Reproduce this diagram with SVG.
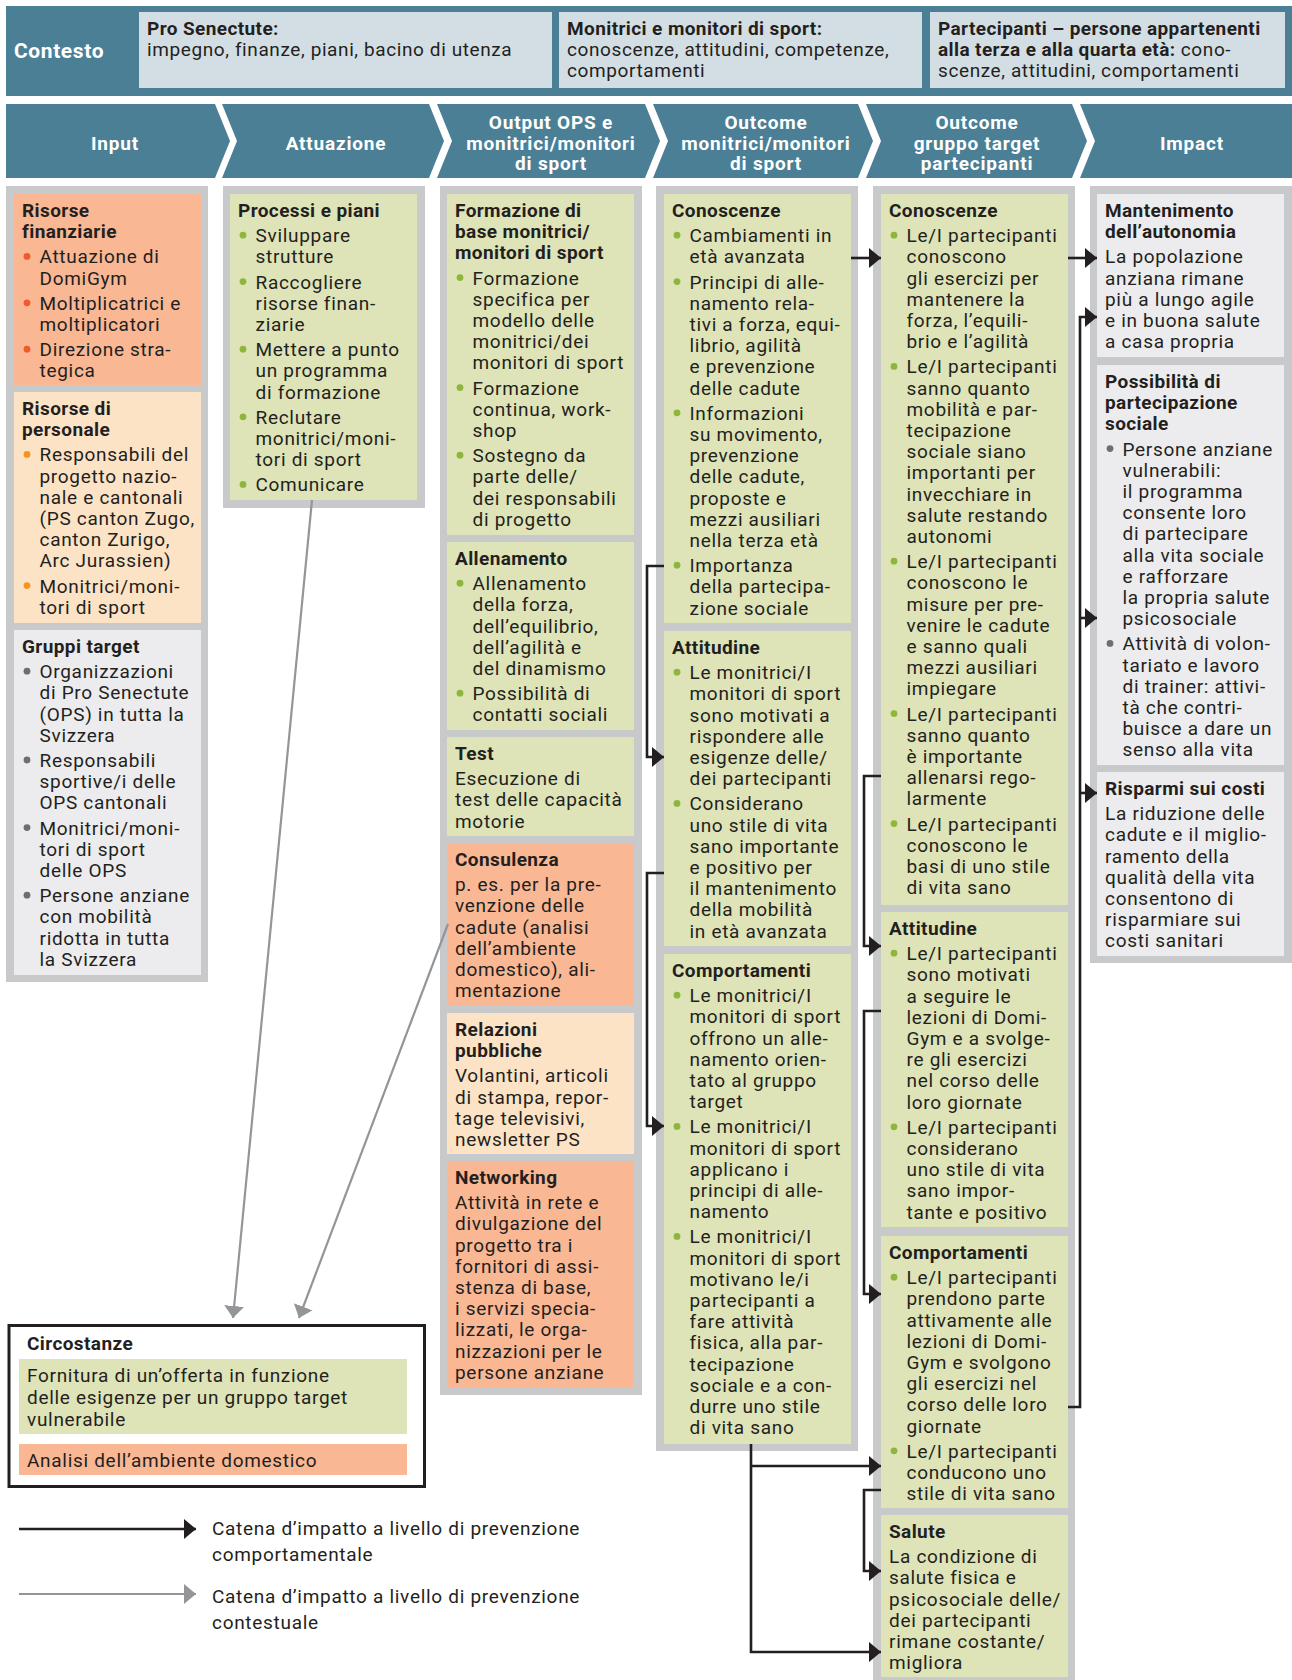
<svg xmlns="http://www.w3.org/2000/svg" width="1292" height="1680" viewBox="0 0 1292 1680">
<style>
.t{font-family:Roboto,"Liberation Sans",sans-serif;font-size:19px;letter-spacing:0.7px;fill:#231f20}
.h{font-weight:700;letter-spacing:0.4px}
.dr{fill:#f15a2b}.do{fill:#f7941e}.dg{fill:#6d6e71}.dl{fill:#8fb63c}
.fr{fill:#c8c9cb}.gr{fill:#dee4b7}.sa{fill:#f9b794}.pe{fill:#fde3c6}.lg{fill:#ececee}
.hd{fill:#4b7f96}.hb{fill:#d3dee4}
.ch{font-family:Roboto,"Liberation Sans",sans-serif;font-size:19px;font-weight:700;letter-spacing:0.8px;fill:#fff;text-anchor:middle}
.hx{font-family:Roboto,"Liberation Sans",sans-serif;font-size:19px;letter-spacing:0.6px;fill:#231f20}
.cn{fill:none;stroke:#231f20;stroke-width:2.6}
.cg{fill:none;stroke:#939598;stroke-width:2.2}
</style>
<defs>
<marker id="ab" viewBox="0 0 12 20" refX="12" refY="10" markerWidth="12" markerHeight="20" markerUnits="userSpaceOnUse" orient="auto"><path d="M0,0L12,10L0,20z" fill="#231f20"/></marker>
<marker id="ag" viewBox="0 0 12 20" refX="12" refY="10" markerWidth="12" markerHeight="20" markerUnits="userSpaceOnUse" orient="auto"><path d="M0,0L12,10L0,20z" fill="#939598"/></marker>
</defs>

<g id="contesto">
<rect class="hd" x="6" y="6" width="1286" height="90"/>
<text x="14" y="58" style="font-family:Roboto,'Liberation Sans',sans-serif;font-size:21px;font-weight:700;letter-spacing:0.6px;fill:#fff">Contesto</text>
<rect class="hb" x="139" y="12" width="413" height="76"/>
<text class="hx" x="147" y="35"><tspan style="font-weight:700;letter-spacing:0.4px">Pro Senectute:</tspan><tspan x="147" dy="21">impegno, finanze, piani, bacino di utenza</tspan></text>
<rect class="hb" x="559" y="12" width="363" height="76"/>
<text class="hx" x="567" y="35"><tspan style="font-weight:700;letter-spacing:0.4px">Monitrici e monitori di sport:</tspan><tspan x="567" dy="21">conoscenze, attitudini, competenze,</tspan><tspan x="567" dy="21">comportamenti</tspan></text>
<rect class="hb" x="930" y="12" width="355" height="76"/>
<text class="hx" x="938" y="35"><tspan style="font-weight:700;letter-spacing:0.4px">Partecipanti – persone appartenenti</tspan><tspan x="938" dy="21" style="font-weight:700;letter-spacing:0.4px">alla terza e alla quarta età:</tspan><tspan> cono-</tspan><tspan x="938" dy="21">scenze, attitudini, comportamenti</tspan></text>
</g>

<g id="fasi">
<polygon class="hd" points="6,104 215,104 230,141 215,178 6,178"/>
<polygon class="hd" points="222,104 429,104 444,141 429,178 222,178 237,141"/>
<polygon class="hd" points="437,104 645,104 660,141 645,178 437,178 452,141"/>
<polygon class="hd" points="653,104 858,104 873,141 858,178 653,178 668,141"/>
<polygon class="hd" points="866,104 1072,104 1087,141 1072,178 866,178 881,141"/>
<polygon class="hd" points="1080,104 1292,104 1292,178 1080,178 1095,141"/>
<text class="ch" x="115" y="150">Input</text>
<text class="ch" x="336" y="150">Attuazione</text>
<text class="ch" x="551" y="129">Output OPS e<tspan x="551" dy="20.5">monitrici/monitori</tspan><tspan x="551" dy="20.5">di sport</tspan></text>
<text class="ch" x="766" y="129">Outcome<tspan x="766" dy="20.5">monitrici/monitori</tspan><tspan x="766" dy="20.5">di sport</tspan></text>
<text class="ch" x="977" y="129">Outcome<tspan x="977" dy="20.5">gruppo target</tspan><tspan x="977" dy="20.5">partecipanti</tspan></text>
<text class="ch" x="1192" y="150">Impact</text>
</g>

<g id="frames">
<rect class="fr" x="6" y="186" width="202" height="796"/>
<rect class="fr" x="223" y="186" width="202" height="322"/>
<rect class="fr" x="440" y="186" width="202" height="1209"/>
<rect class="fr" x="656" y="186" width="202" height="1265"/>
<rect class="fr" x="873" y="186" width="202" height="1494"/>
<rect class="fr" x="1090" y="186" width="202" height="777"/>
</g>

<g id="risorse-finanziarie">
<rect class="sa" x="14" y="194" width="187" height="191"/>
<g class="dr"><circle cx="27" cy="256.4" r="3.4"/><circle cx="27" cy="302.8" r="3.4"/><circle cx="27" cy="349.2" r="3.4"/></g>
<text class="t" x="22" y="217"><tspan class="h">Risorse</tspan><tspan class="h" x="22" dy="21.2">finanziarie</tspan><tspan x="39.5" dy="25.2">Attuazione di</tspan><tspan x="39.5" dy="21.2">DomiGym</tspan><tspan x="39.5" dy="25.2">Moltiplicatrici e</tspan><tspan x="39.5" dy="21.2">moltiplicatori</tspan><tspan x="39.5" dy="25.2">Direzione stra-</tspan><tspan x="39.5" dy="21.2">tegica</tspan></text>
</g>
<g id="risorse-personale">
<rect class="pe" x="14" y="392" width="187" height="231"/>
<g class="do"><circle cx="27" cy="454.4" r="3.4"/><circle cx="27" cy="585.6" r="3.4"/></g>
<text class="t" x="22" y="415"><tspan class="h">Risorse di</tspan><tspan class="h" x="22" dy="21.2">personale</tspan><tspan x="39.5" dy="25.2">Responsabili del</tspan><tspan x="39.5" dy="21.2">progetto nazio-</tspan><tspan x="39.5" dy="21.2">nale e cantonali</tspan><tspan x="39.5" dy="21.2">(PS canton Zugo,</tspan><tspan x="39.5" dy="21.2">canton Zurigo,</tspan><tspan x="39.5" dy="21.2">Arc Jurassien)</tspan><tspan x="39.5" dy="25.2">Monitrici/moni-</tspan><tspan x="39.5" dy="21.2">tori di sport</tspan></text>
</g>
<g id="gruppi-target">
<rect class="lg" x="14" y="630" width="187" height="345"/>
<g class="dg"><circle cx="27" cy="671.2" r="3.4"/><circle cx="27" cy="760" r="3.4"/><circle cx="27" cy="827.6" r="3.4"/><circle cx="27" cy="895.2" r="3.4"/></g>
<text class="t" x="22" y="653"><tspan class="h">Gruppi target</tspan><tspan x="39.5" dy="25.2">Organizzazioni</tspan><tspan x="39.5" dy="21.2">di Pro Senectute</tspan><tspan x="39.5" dy="21.2">(OPS) in tutta la</tspan><tspan x="39.5" dy="21.2">Svizzera</tspan><tspan x="39.5" dy="25.2">Responsabili</tspan><tspan x="39.5" dy="21.2">sportive/i delle</tspan><tspan x="39.5" dy="21.2">OPS cantonali</tspan><tspan x="39.5" dy="25.2">Monitrici/moni-</tspan><tspan x="39.5" dy="21.2">tori di sport</tspan><tspan x="39.5" dy="21.2">delle OPS</tspan><tspan x="39.5" dy="25.2">Persone anziane</tspan><tspan x="39.5" dy="21.2">con mobilità</tspan><tspan x="39.5" dy="21.2">ridotta in tutta</tspan><tspan x="39.5" dy="21.2">la Svizzera</tspan></text>
</g>

<g id="processi-piani">
<rect class="gr" x="230" y="194" width="187" height="306"/>
<g class="dl"><circle cx="243" cy="235.2" r="3.4"/><circle cx="243" cy="281.6" r="3.4"/><circle cx="243" cy="349.2" r="3.4"/><circle cx="243" cy="416.8" r="3.4"/><circle cx="243" cy="484.4" r="3.4"/></g>
<text class="t" x="238" y="217"><tspan class="h">Processi e piani</tspan><tspan x="255.5" dy="25.2">Sviluppare</tspan><tspan x="255.5" dy="21.2">strutture</tspan><tspan x="255.5" dy="25.2">Raccogliere</tspan><tspan x="255.5" dy="21.2">risorse finan-</tspan><tspan x="255.5" dy="21.2">ziarie</tspan><tspan x="255.5" dy="25.2">Mettere a punto</tspan><tspan x="255.5" dy="21.2">un programma</tspan><tspan x="255.5" dy="21.2">di formazione</tspan><tspan x="255.5" dy="25.2">Reclutare</tspan><tspan x="255.5" dy="21.2">monitrici/moni-</tspan><tspan x="255.5" dy="21.2">tori di sport</tspan><tspan x="255.5" dy="25.2">Comunicare</tspan></text>
</g>

<g id="formazione">
<rect class="gr" x="447" y="194" width="187" height="341"/>
<g class="dl"><circle cx="460" cy="277.6" r="3.4"/><circle cx="460" cy="387.6" r="3.4"/><circle cx="460" cy="455.2" r="3.4"/></g>
<text class="t" x="455" y="217"><tspan class="h">Formazione di</tspan><tspan class="h" x="455" dy="21.2">base monitrici/</tspan><tspan class="h" x="455" dy="21.2">monitori di sport</tspan><tspan x="472.5" dy="25.2">Formazione</tspan><tspan x="472.5" dy="21.2">specifica per</tspan><tspan x="472.5" dy="21.2">modello delle</tspan><tspan x="472.5" dy="21.2">monitrici/dei</tspan><tspan x="472.5" dy="21.2">monitori di sport</tspan><tspan x="472.5" dy="25.2">Formazione</tspan><tspan x="472.5" dy="21.2">continua, work-</tspan><tspan x="472.5" dy="21.2">shop</tspan><tspan x="472.5" dy="25.2">Sostegno da</tspan><tspan x="472.5" dy="21.2">parte delle/</tspan><tspan x="472.5" dy="21.2">dei responsabili</tspan><tspan x="472.5" dy="21.2">di progetto</tspan></text>
</g>
<g id="allenamento">
<rect class="gr" x="447" y="542" width="187" height="188"/>
<g class="dl"><circle cx="460" cy="583.2" r="3.4"/><circle cx="460" cy="693.2" r="3.4"/></g>
<text class="t" x="455" y="565"><tspan class="h">Allenamento</tspan><tspan x="472.5" dy="25.2">Allenamento</tspan><tspan x="472.5" dy="21.2">della forza,</tspan><tspan x="472.5" dy="21.2">dell’equilibrio,</tspan><tspan x="472.5" dy="21.2">dell’agilità e</tspan><tspan x="472.5" dy="21.2">del dinamismo</tspan><tspan x="472.5" dy="25.2">Possibilità di</tspan><tspan x="472.5" dy="21.2">contatti sociali</tspan></text>
</g>
<g id="test">
<rect class="gr" x="447" y="737" width="187" height="99"/>
<text class="t" x="455" y="760"><tspan class="h">Test</tspan><tspan x="455" dy="25.2">Esecuzione di</tspan><tspan x="455" dy="21.2">test delle capacità</tspan><tspan x="455" dy="21.2">motorie</tspan></text>
</g>
<g id="consulenza">
<rect class="sa" x="447" y="843" width="187" height="163"/>
<text class="t" x="455" y="866"><tspan class="h">Consulenza</tspan><tspan x="455" dy="25.2">p. es. per la pre-</tspan><tspan x="455" dy="21.2">venzione delle</tspan><tspan x="455" dy="21.2">cadute (analisi</tspan><tspan x="455" dy="21.2">dell’ambiente</tspan><tspan x="455" dy="21.2">domestico), ali-</tspan><tspan x="455" dy="21.2">mentazione</tspan></text>
</g>
<g id="relazioni-pubbliche">
<rect class="pe" x="447" y="1013" width="187" height="141"/>
<text class="t" x="455" y="1036"><tspan class="h">Relazioni</tspan><tspan class="h" x="455" dy="21.2">pubbliche</tspan><tspan x="455" dy="25.2">Volantini, articoli</tspan><tspan x="455" dy="21.2">di stampa, repor-</tspan><tspan x="455" dy="21.2">tage televisivi,</tspan><tspan x="455" dy="21.2">newsletter PS</tspan></text>
</g>
<g id="networking">
<rect class="sa" x="447" y="1161" width="187" height="227"/>
<text class="t" x="455" y="1184"><tspan class="h">Networking</tspan><tspan x="455" dy="25.2">Attività in rete e</tspan><tspan x="455" dy="21.2">divulgazione del</tspan><tspan x="455" dy="21.2">progetto tra i</tspan><tspan x="455" dy="21.2">fornitori di assi-</tspan><tspan x="455" dy="21.2">stenza di base,</tspan><tspan x="455" dy="21.2">i servizi specia-</tspan><tspan x="455" dy="21.2">lizzati, le orga-</tspan><tspan x="455" dy="21.2">nizzazioni per le</tspan><tspan x="455" dy="21.2">persone anziane</tspan></text>
</g>

<g id="mon-conoscenze">
<rect class="gr" x="664" y="194" width="187" height="429"/>
<g class="dl"><circle cx="677" cy="235.2" r="3.4"/><circle cx="677" cy="281.6" r="3.4"/><circle cx="677" cy="412.8" r="3.4"/><circle cx="677" cy="565.2" r="3.4"/></g>
<text class="t" x="672" y="217"><tspan class="h">Conoscenze</tspan><tspan x="689.5" dy="25.2">Cambiamenti in</tspan><tspan x="689.5" dy="21.2">età avanzata</tspan><tspan x="689.5" dy="25.2">Principi di alle-</tspan><tspan x="689.5" dy="21.2">namento rela-</tspan><tspan x="689.5" dy="21.2">tivi a forza, equi-</tspan><tspan x="689.5" dy="21.2">librio, agilità</tspan><tspan x="689.5" dy="21.2">e prevenzione</tspan><tspan x="689.5" dy="21.2">delle cadute</tspan><tspan x="689.5" dy="25.2">Informazioni</tspan><tspan x="689.5" dy="21.2">su movimento,</tspan><tspan x="689.5" dy="21.2">prevenzione</tspan><tspan x="689.5" dy="21.2">delle cadute,</tspan><tspan x="689.5" dy="21.2">proposte e</tspan><tspan x="689.5" dy="21.2">mezzi ausiliari</tspan><tspan x="689.5" dy="21.2">nella terza età</tspan><tspan x="689.5" dy="25.2">Importanza</tspan><tspan x="689.5" dy="21.2">della partecipa-</tspan><tspan x="689.5" dy="21.2">zione sociale</tspan></text>
</g>
<g id="mon-attitudine">
<rect class="gr" x="664" y="631" width="187" height="315"/>
<g class="dl"><circle cx="677" cy="672.2" r="3.4"/><circle cx="677" cy="803.4" r="3.4"/></g>
<text class="t" x="672" y="654"><tspan class="h">Attitudine</tspan><tspan x="689.5" dy="25.2">Le monitrici/I</tspan><tspan x="689.5" dy="21.2">monitori di sport</tspan><tspan x="689.5" dy="21.2">sono motivati a</tspan><tspan x="689.5" dy="21.2">rispondere alle</tspan><tspan x="689.5" dy="21.2">esigenze delle/</tspan><tspan x="689.5" dy="21.2">dei partecipanti</tspan><tspan x="689.5" dy="25.2">Considerano</tspan><tspan x="689.5" dy="21.2">uno stile di vita</tspan><tspan x="689.5" dy="21.2">sano importante</tspan><tspan x="689.5" dy="21.2">e positivo per</tspan><tspan x="689.5" dy="21.2">il mantenimento</tspan><tspan x="689.5" dy="21.2">della mobilità</tspan><tspan x="689.5" dy="21.2">in età avanzata</tspan></text>
</g>
<g id="mon-comportamenti">
<rect class="gr" x="664" y="954" width="187" height="490"/>
<g class="dl"><circle cx="677" cy="995.2" r="3.4"/><circle cx="677" cy="1126.4" r="3.4"/><circle cx="677" cy="1236.4" r="3.4"/></g>
<text class="t" x="672" y="977"><tspan class="h">Comportamenti</tspan><tspan x="689.5" dy="25.2">Le monitrici/I</tspan><tspan x="689.5" dy="21.2">monitori di sport</tspan><tspan x="689.5" dy="21.2">offrono un alle-</tspan><tspan x="689.5" dy="21.2">namento orien-</tspan><tspan x="689.5" dy="21.2">tato al gruppo</tspan><tspan x="689.5" dy="21.2">target</tspan><tspan x="689.5" dy="25.2">Le monitrici/I</tspan><tspan x="689.5" dy="21.2">monitori di sport</tspan><tspan x="689.5" dy="21.2">applicano i</tspan><tspan x="689.5" dy="21.2">principi di alle-</tspan><tspan x="689.5" dy="21.2">namento</tspan><tspan x="689.5" dy="25.2">Le monitrici/I</tspan><tspan x="689.5" dy="21.2">monitori di sport</tspan><tspan x="689.5" dy="21.2">motivano le/i</tspan><tspan x="689.5" dy="21.2">partecipanti a</tspan><tspan x="689.5" dy="21.2">fare attività</tspan><tspan x="689.5" dy="21.2">fisica, alla par-</tspan><tspan x="689.5" dy="21.2">tecipazione</tspan><tspan x="689.5" dy="21.2">sociale e a con-</tspan><tspan x="689.5" dy="21.2">durre uno stile</tspan><tspan x="689.5" dy="21.2">di vita sano</tspan></text>
</g>

<g id="part-conoscenze">
<rect class="gr" x="881" y="194" width="187" height="711"/>
<g class="dl"><circle cx="894" cy="235.2" r="3.4"/><circle cx="894" cy="366.4" r="3.4"/><circle cx="894" cy="561.2" r="3.4"/><circle cx="894" cy="713.6" r="3.4"/><circle cx="894" cy="823.6" r="3.4"/></g>
<text class="t" x="889" y="217"><tspan class="h">Conoscenze</tspan><tspan x="906.5" dy="25.2">Le/I partecipanti</tspan><tspan x="906.5" dy="21.2">conoscono</tspan><tspan x="906.5" dy="21.2">gli esercizi per</tspan><tspan x="906.5" dy="21.2">mantenere la</tspan><tspan x="906.5" dy="21.2">forza, l’equili-</tspan><tspan x="906.5" dy="21.2">brio e l’agilità</tspan><tspan x="906.5" dy="25.2">Le/I partecipanti</tspan><tspan x="906.5" dy="21.2">sanno quanto</tspan><tspan x="906.5" dy="21.2">mobilità e par-</tspan><tspan x="906.5" dy="21.2">tecipazione</tspan><tspan x="906.5" dy="21.2">sociale siano</tspan><tspan x="906.5" dy="21.2">importanti per</tspan><tspan x="906.5" dy="21.2">invecchiare in</tspan><tspan x="906.5" dy="21.2">salute restando</tspan><tspan x="906.5" dy="21.2">autonomi</tspan><tspan x="906.5" dy="25.2">Le/I partecipanti</tspan><tspan x="906.5" dy="21.2">conoscono le</tspan><tspan x="906.5" dy="21.2">misure per pre-</tspan><tspan x="906.5" dy="21.2">venire le cadute</tspan><tspan x="906.5" dy="21.2">e sanno quali</tspan><tspan x="906.5" dy="21.2">mezzi ausiliari</tspan><tspan x="906.5" dy="21.2">impiegare</tspan><tspan x="906.5" dy="25.2">Le/I partecipanti</tspan><tspan x="906.5" dy="21.2">sanno quanto</tspan><tspan x="906.5" dy="21.2">è importante</tspan><tspan x="906.5" dy="21.2">allenarsi rego-</tspan><tspan x="906.5" dy="21.2">larmente</tspan><tspan x="906.5" dy="25.2">Le/I partecipanti</tspan><tspan x="906.5" dy="21.2">conoscono le</tspan><tspan x="906.5" dy="21.2">basi di uno stile</tspan><tspan x="906.5" dy="21.2">di vita sano</tspan></text>
</g>
<g id="part-attitudine">
<rect class="gr" x="881" y="912" width="187" height="315"/>
<g class="dl"><circle cx="894" cy="953.2" r="3.4"/><circle cx="894" cy="1126.8" r="3.4"/></g>
<text class="t" x="889" y="935"><tspan class="h">Attitudine</tspan><tspan x="906.5" dy="25.2">Le/I partecipanti</tspan><tspan x="906.5" dy="21.2">sono motivati</tspan><tspan x="906.5" dy="21.2">a seguire le</tspan><tspan x="906.5" dy="21.2">lezioni di Domi-</tspan><tspan x="906.5" dy="21.2">Gym e a svolge-</tspan><tspan x="906.5" dy="21.2">re gli esercizi</tspan><tspan x="906.5" dy="21.2">nel corso delle</tspan><tspan x="906.5" dy="21.2">loro giornate</tspan><tspan x="906.5" dy="25.2">Le/I partecipanti</tspan><tspan x="906.5" dy="21.2">considerano</tspan><tspan x="906.5" dy="21.2">uno stile di vita</tspan><tspan x="906.5" dy="21.2">sano impor-</tspan><tspan x="906.5" dy="21.2">tante e positivo</tspan></text>
</g>
<g id="part-comportamenti">
<rect class="gr" x="881" y="1236" width="187" height="272"/>
<g class="dl"><circle cx="894" cy="1277.2" r="3.4"/><circle cx="894" cy="1450.8" r="3.4"/></g>
<text class="t" x="889" y="1259"><tspan class="h">Comportamenti</tspan><tspan x="906.5" dy="25.2">Le/I partecipanti</tspan><tspan x="906.5" dy="21.2">prendono parte</tspan><tspan x="906.5" dy="21.2">attivamente alle</tspan><tspan x="906.5" dy="21.2">lezioni di Domi-</tspan><tspan x="906.5" dy="21.2">Gym e svolgono</tspan><tspan x="906.5" dy="21.2">gli esercizi nel</tspan><tspan x="906.5" dy="21.2">corso delle loro</tspan><tspan x="906.5" dy="21.2">giornate</tspan><tspan x="906.5" dy="25.2">Le/I partecipanti</tspan><tspan x="906.5" dy="21.2">conducono uno</tspan><tspan x="906.5" dy="21.2">stile di vita sano</tspan></text>
</g>
<g id="part-salute">
<rect class="gr" x="881" y="1515" width="187" height="162"/>
<text class="t" x="889" y="1538"><tspan class="h">Salute</tspan><tspan x="889" dy="25.2">La condizione di</tspan><tspan x="889" dy="21.2">salute fisica e</tspan><tspan x="889" dy="21.2">psicosociale delle/</tspan><tspan x="889" dy="21.2">dei partecipanti</tspan><tspan x="889" dy="21.2">rimane costante/</tspan><tspan x="889" dy="21.2">migliora</tspan></text>
</g>

<g id="impact-autonomia">
<rect class="lg" x="1097" y="194" width="187" height="163"/>
<text class="t" x="1105" y="217"><tspan class="h">Mantenimento</tspan><tspan class="h" x="1105" dy="21.2">dell’autonomia</tspan><tspan x="1105" dy="25.2">La popolazione</tspan><tspan x="1105" dy="21.2">anziana rimane</tspan><tspan x="1105" dy="21.2">più a lungo agile</tspan><tspan x="1105" dy="21.2">e in buona salute</tspan><tspan x="1105" dy="21.2">a casa propria</tspan></text>
</g>
<g id="impact-partecipazione">
<rect class="lg" x="1097" y="365" width="187" height="400"/>
<g class="dg"><circle cx="1110" cy="448.6" r="3.4"/><circle cx="1110" cy="643.4" r="3.4"/></g>
<text class="t" x="1105" y="388"><tspan class="h">Possibilità di</tspan><tspan class="h" x="1105" dy="21.2">partecipazione</tspan><tspan class="h" x="1105" dy="21.2">sociale</tspan><tspan x="1122.5" dy="25.2">Persone anziane</tspan><tspan x="1122.5" dy="21.2">vulnerabili:</tspan><tspan x="1122.5" dy="21.2">il programma</tspan><tspan x="1122.5" dy="21.2">consente loro</tspan><tspan x="1122.5" dy="21.2">di partecipare</tspan><tspan x="1122.5" dy="21.2">alla vita sociale</tspan><tspan x="1122.5" dy="21.2">e rafforzare</tspan><tspan x="1122.5" dy="21.2">la propria salute</tspan><tspan x="1122.5" dy="21.2">psicosociale</tspan><tspan x="1122.5" dy="25.2">Attività di volon-</tspan><tspan x="1122.5" dy="21.2">tariato e lavoro</tspan><tspan x="1122.5" dy="21.2">di trainer: attivi-</tspan><tspan x="1122.5" dy="21.2">tà che contri-</tspan><tspan x="1122.5" dy="21.2">buisce a dare un</tspan><tspan x="1122.5" dy="21.2">senso alla vita</tspan></text>
</g>
<g id="impact-risparmi">
<rect class="lg" x="1097" y="772" width="187" height="184"/>
<text class="t" x="1105" y="795"><tspan class="h">Risparmi sui costi</tspan><tspan x="1105" dy="25.2">La riduzione delle</tspan><tspan x="1105" dy="21.2">cadute e il miglio-</tspan><tspan x="1105" dy="21.2">ramento della</tspan><tspan x="1105" dy="21.2">qualità della vita</tspan><tspan x="1105" dy="21.2">consentono di</tspan><tspan x="1105" dy="21.2">risparmiare sui</tspan><tspan x="1105" dy="21.2">costi sanitari</tspan></text>
</g>

<g id="circostanze">
<rect x="9" y="1325.5" width="415.5" height="161" fill="#fff" stroke="#231f20" stroke-width="3"/>
<text class="t h" x="27" y="1350">Circostanze</text>
<rect class="gr" x="19" y="1359" width="388" height="75"/>
<text class="t" x="27" y="1382">Fornitura di un’offerta in funzione<tspan x="27" dy="22.2">delle esigenze per un gruppo target</tspan><tspan x="27" dy="22.2">vulnerabile</tspan></text>
<rect class="sa" x="19" y="1444" width="388" height="31"/>
<text class="t" x="27" y="1467">Analisi dell’ambiente domestico</text>
</g>

<g id="connettori">
<path class="cg" d="M312,500L233,1318" marker-end="url(#ag)"/>
<path class="cg" d="M448,924L299,1318" marker-end="url(#ag)"/>
<path class="cn" d="M851,258H881" marker-end="url(#ab)"/>
<path class="cn" d="M1068,258H1097" marker-end="url(#ab)"/>
<path class="cn" d="M1068,1407H1080V317H1097" marker-end="url(#ab)"/>
<path class="cn" d="M1080,618H1097" marker-end="url(#ab)"/>
<path class="cn" d="M1080,793H1097" marker-end="url(#ab)"/>
<path class="cn" d="M664,566H647V757H664" marker-end="url(#ab)"/>
<path class="cn" d="M664,873H647V1126H664" marker-end="url(#ab)"/>
<path class="cn" d="M881,776H864V946H881" marker-end="url(#ab)"/>
<path class="cn" d="M881,1011H864V1294H881" marker-end="url(#ab)"/>
<path class="cn" d="M881,1490H864V1571H881" marker-end="url(#ab)"/>
<path class="cn" d="M751,1444V1652H881" marker-end="url(#ab)"/>
<path class="cn" d="M751,1466H881" marker-end="url(#ab)"/>
</g>

<g id="legenda">
<path class="cn" d="M19,1529H196" stroke-width="3" marker-end="url(#ab)"/>
<text class="t" x="212" y="1535">Catena d’impatto a livello di prevenzione<tspan x="212" dy="26">comportamentale</tspan></text>
<path class="cg" d="M19,1594H196" stroke-width="3" marker-end="url(#ag)"/>
<text class="t" x="212" y="1603">Catena d’impatto a livello di prevenzione<tspan x="212" dy="26">contestuale</tspan></text>
</g>
</svg>
